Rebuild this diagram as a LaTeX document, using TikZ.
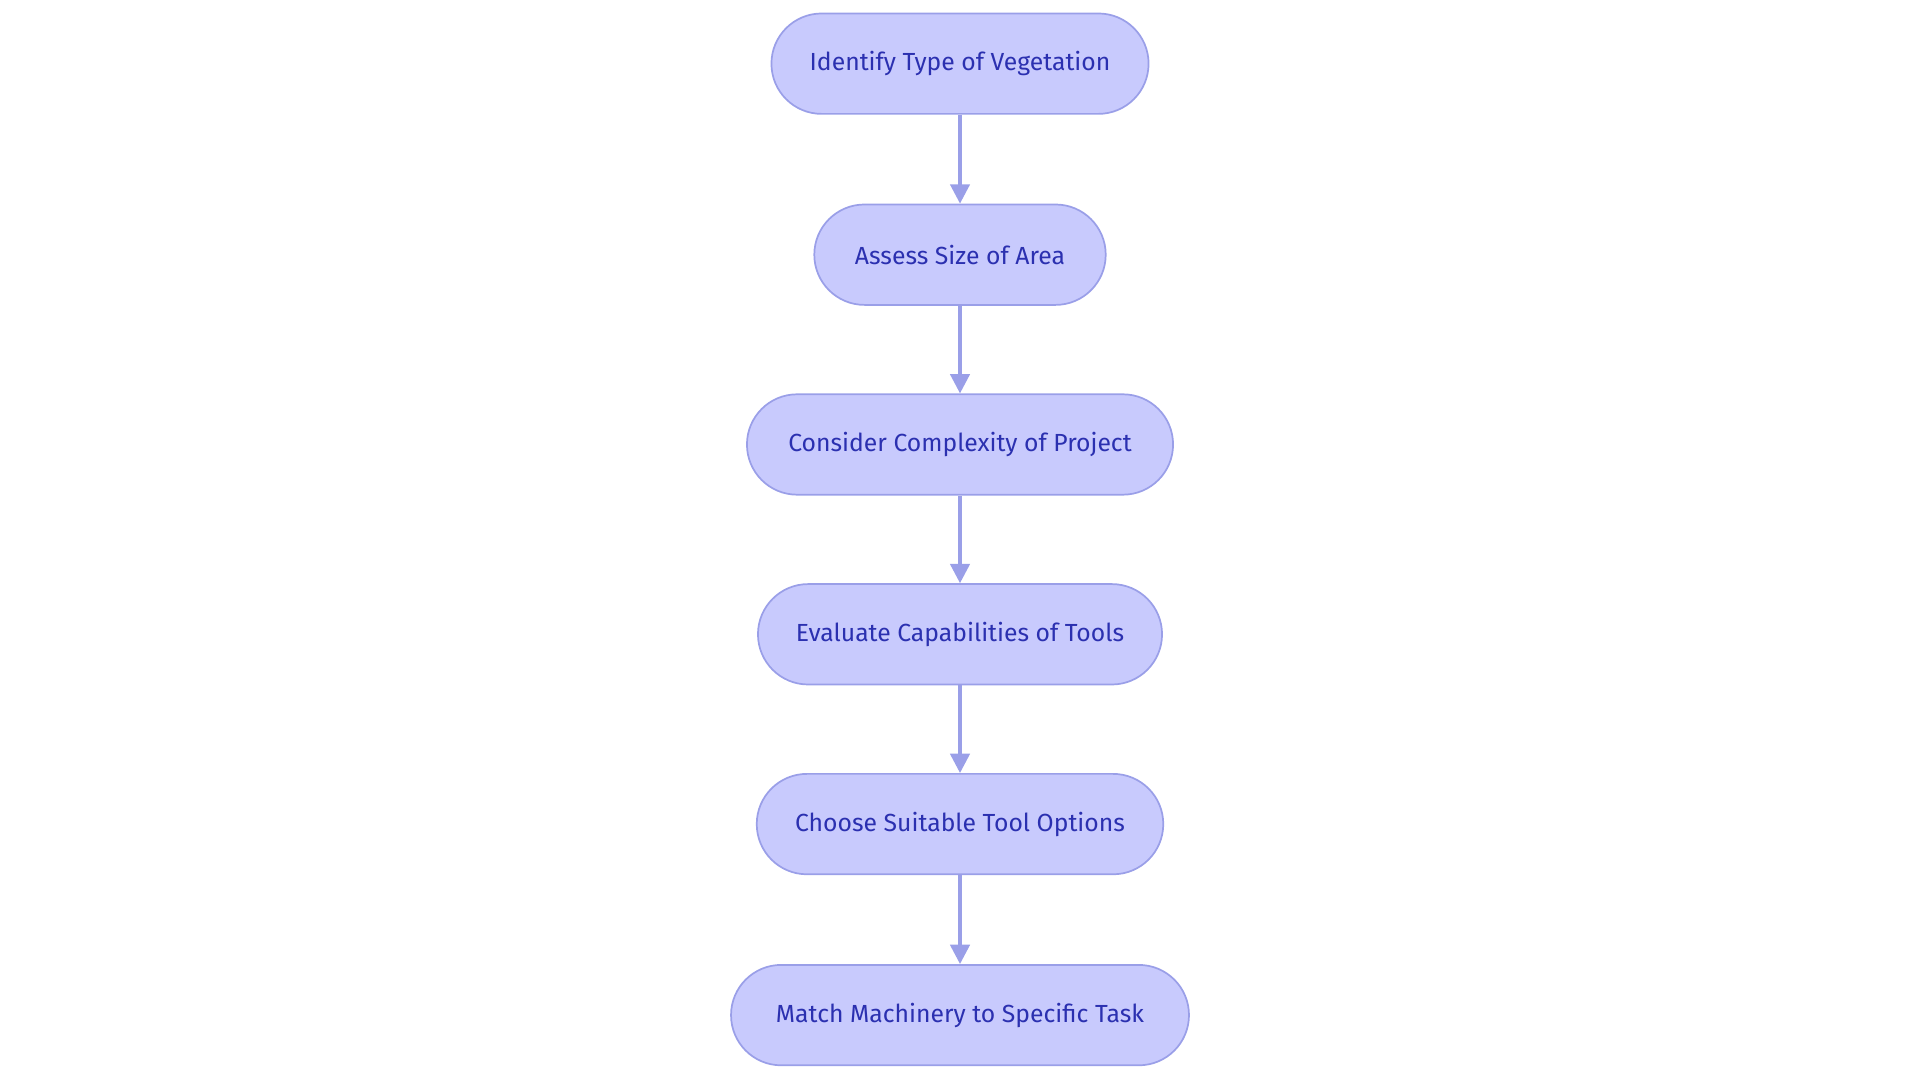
\documentclass[tikz,border=0pt]{standalone}
\usepackage{fontspec}
\setmainfont{Fira Sans}
\usetikzlibrary{arrows.meta}
\definecolor{nfill}{HTML}{C8CAFD}
\definecolor{nline}{HTML}{9A9FE8}
\definecolor{ntext}{HTML}{2B30B0}
\begin{document}
\begin{tikzpicture}[x=0.02cm,y=-0.02cm,
  box/.style={draw=nline,fill=nfill,text=ntext,rounded corners=41*0.02cm,minimum height=82*0.02cm,inner sep=0pt,font=\fontsize{11.5}{13}\selectfont,line width=0.8pt},
  arr/.style={draw=nline,line width=1.6pt,-{Triangle[length=9pt,width=9pt]}}]
\useasboundingbox (0,0) rectangle (1568,882);
\node[box,minimum width=308*0.02cm] (a) at (784,52) {Identify Type of Vegetation};
\node[box,minimum width=238*0.02cm] (b) at (784,208) {Assess Size of Area};
\node[box,minimum width=348*0.02cm] (c) at (784,363) {Consider Complexity of Project};
\node[box,minimum width=330*0.02cm] (d) at (784,518) {Evaluate Capabilities of Tools};
\node[box,minimum width=332*0.02cm] (e) at (784,673) {Choose Suitable Tool Options};
\node[box,minimum width=374*0.02cm] (f) at (784,829) {Match Machinery to Specific Task};
\draw[arr] (a) -- (b);
\draw[arr] (b) -- (c);
\draw[arr] (c) -- (d);
\draw[arr] (d) -- (e);
\draw[arr] (e) -- (f);
\end{tikzpicture}
\end{document}
